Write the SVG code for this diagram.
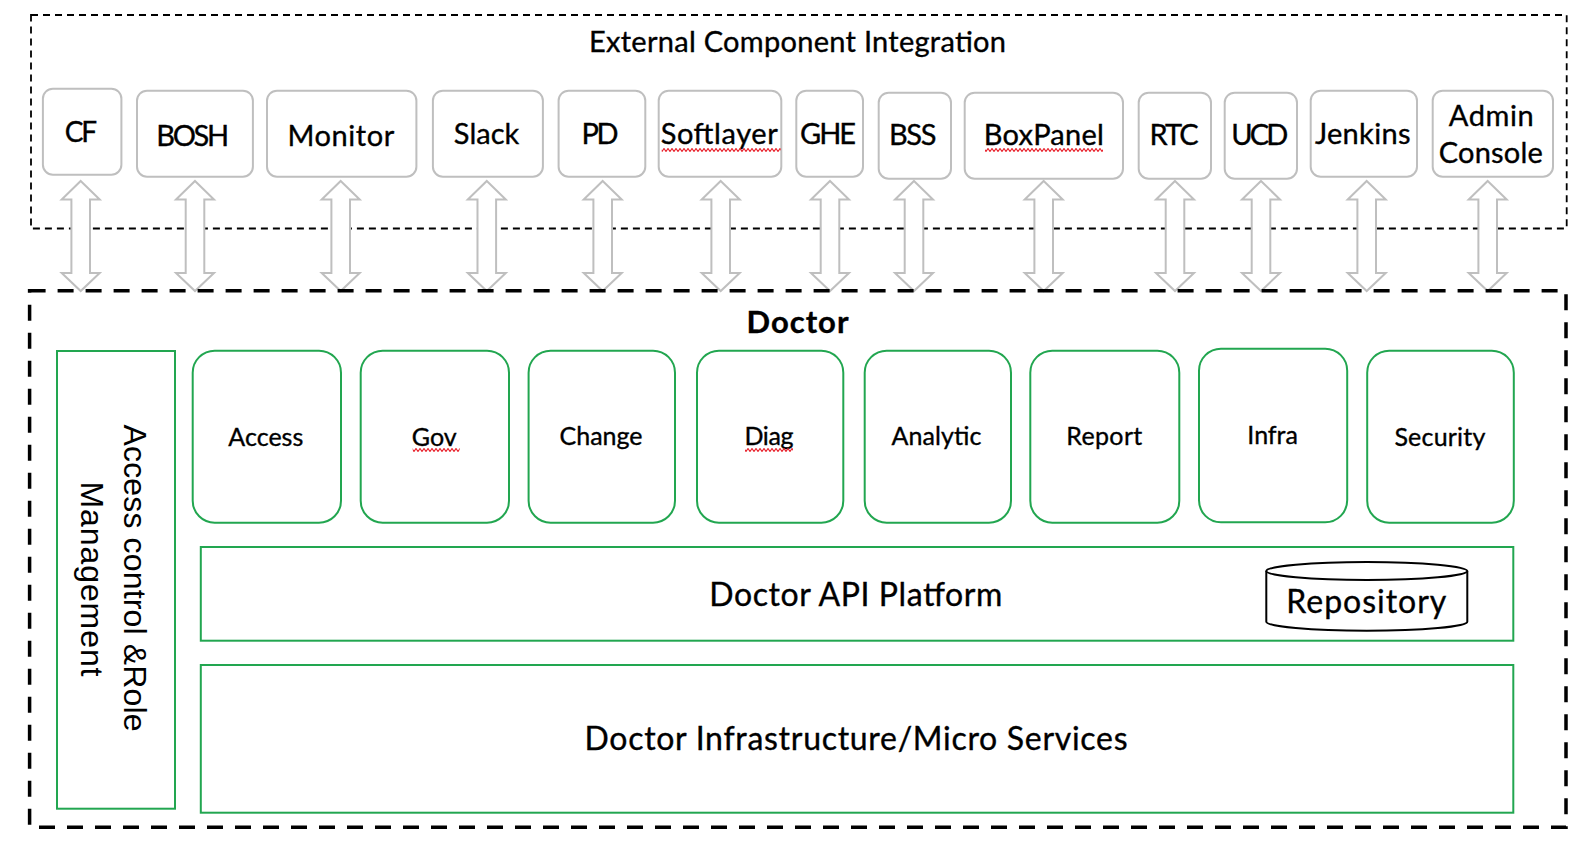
<svg xmlns="http://www.w3.org/2000/svg" xmlns:xlink="http://www.w3.org/1999/xlink" width="1582" height="854" viewBox="0 0 1582 854">
<style>
.ext{fill:#fff;stroke:#bfbfbf;stroke-width:2}
.mod{fill:#fff;stroke:#22a650;stroke-width:2}
.lbl{font-family:Lato,"Open Sans",sans-serif;fill:#000;text-anchor:middle;stroke:#000;stroke-width:0.35}
.t29{font-size:29px}
.t25{font-size:25px}
.t32{font-size:32px}
.arrow{fill:#fff;stroke:#bfbfbf;stroke-width:2;stroke-linejoin:miter}
.spell{fill:url(#wv)}
</style>
<defs>
<path id="dbl" d="M0,181 L19,199.5 L9.3,199.5 L9.3,273 L19,273 L0,291 L-19,273 L-9.3,273 L-9.3,199.5 L-19,199.5 Z"/>
<pattern id="wv" x="0" y="0" width="4" height="4" patternUnits="userSpaceOnUse">
<path d="M-1,1.5 L0,0.5 L2,3.5 L4,0.5 L5,1.5" fill="none" stroke="#e8202a" stroke-width="1.1"/>
</pattern>
</defs>
<rect width="1582" height="854" fill="#fff"/>

<g id="external">
<rect x="31" y="15" width="1535.7" height="213.5" fill="none" stroke="#000" stroke-width="1.8" stroke-dasharray="7 5"/>
<text class="lbl t29" x="797.5" y="52.3" textLength="417">External Component Integration</text>
</g>

<g id="connectors">
<use xlink:href="#dbl" href="#dbl" class="arrow" x="80.7"/>
<use xlink:href="#dbl" href="#dbl" class="arrow" x="195"/>
<use xlink:href="#dbl" href="#dbl" class="arrow" x="340.7"/>
<use xlink:href="#dbl" href="#dbl" class="arrow" x="486.8"/>
<use xlink:href="#dbl" href="#dbl" class="arrow" x="602.7"/>
<use xlink:href="#dbl" href="#dbl" class="arrow" x="720.7"/>
<use xlink:href="#dbl" href="#dbl" class="arrow" x="830"/>
<use xlink:href="#dbl" href="#dbl" class="arrow" x="914"/>
<use xlink:href="#dbl" href="#dbl" class="arrow" x="1043.7"/>
<use xlink:href="#dbl" href="#dbl" class="arrow" x="1175"/>
<use xlink:href="#dbl" href="#dbl" class="arrow" x="1261"/>
<use xlink:href="#dbl" href="#dbl" class="arrow" x="1366.7"/>
<use xlink:href="#dbl" href="#dbl" class="arrow" x="1487.7"/>
</g>

<g id="cf"><rect class="ext" x="42.9" y="88.7" width="78.5" height="86" rx="10"/><text class="lbl" style="font-size:28px" x="80.9" y="141.7" textLength="32.5">CF</text></g>
<g id="bosh"><rect class="ext" x="137" y="90.7" width="115.9" height="86" rx="10"/><text class="lbl t29" x="192.7" y="145.7" textLength="73">BOSH</text></g>
<g id="monitor"><rect class="ext" x="267" y="90.7" width="149.4" height="86" rx="10"/><text class="lbl t29" x="340.9" y="145.7" textLength="107">Monitor</text></g>
<g id="slack"><rect class="ext" x="432.9" y="90.7" width="110" height="86" rx="10"/><text class="lbl t29" x="486.6" y="144" textLength="65.5">Slack</text></g>
<g id="pd"><rect class="ext" x="558.6" y="90.7" width="86.7" height="86" rx="10"/><text class="lbl t29" x="600" y="144" textLength="37">PD</text></g>
<g id="softlayer"><rect class="ext" x="658.7" y="90.7" width="122.6" height="86" rx="10"/><text class="lbl t29" x="719.2" y="144.3" textLength="117">Softlayer</text><rect class="spell" x="661.7" y="148" width="119" height="4"/></g>
<g id="ghe"><rect class="ext" x="796.3" y="90.7" width="66.7" height="86" rx="10"/><text class="lbl t29" x="828" y="144" textLength="56">GHE</text></g>
<g id="bss"><rect class="ext" x="878.7" y="92.7" width="72.3" height="86" rx="10"/><text class="lbl t29" x="912.7" y="145.3" textLength="47.5">BSS</text></g>
<g id="boxpanel"><rect class="ext" x="964.7" y="92.7" width="158.3" height="86" rx="10"/><text class="lbl t29" x="1043.8" y="145.3" textLength="120">BoxPanel</text><rect class="spell" x="985" y="148" width="118" height="4"/></g>
<g id="rtc"><rect class="ext" x="1138.7" y="92.7" width="72.3" height="86" rx="10"/><text class="lbl t29" x="1174" y="145.3" textLength="49">RTC</text></g>
<g id="ucd"><rect class="ext" x="1224.7" y="92.7" width="72.3" height="86" rx="10"/><text class="lbl t29" x="1259.7" y="145.3" textLength="57">UCD</text></g>
<g id="jenkins"><rect class="ext" x="1310.7" y="90.7" width="106.3" height="86" rx="10"/><text class="lbl t29" x="1362.7" y="144" textLength="95.5">Jenkins</text></g>
<g id="admin-console"><rect class="ext" x="1432.7" y="90.7" width="120.3" height="86" rx="10"/><text class="lbl t29" x="1491.3" y="125.7" textLength="85">Admin</text><text class="lbl t29" x="1490.8" y="163.3" textLength="104">Console</text></g>

<g id="doctor">
<rect x="29.6" y="290.7" width="1536.4" height="536.6" fill="none" stroke="#000" stroke-width="3.5" stroke-dasharray="16 12"/>
<text class="lbl" style="font-size:31px;font-weight:bold" x="797.5" y="332.7" textLength="102">Doctor</text>
</g>

<g id="access-control">
<rect class="mod" x="57" y="351" width="118" height="457.7"/>
<text transform="translate(123.5,578) rotate(90)" style="font-family:'Liberation Sans',Arial,sans-serif;font-size:32px;text-anchor:middle" textLength="307">Access control &amp;Role</text>
<text transform="translate(80.5,579) rotate(90)" style="font-family:'Liberation Sans',Arial,sans-serif;font-size:32px;text-anchor:middle" textLength="195">Management</text>
</g>

<g id="access"><rect class="mod" x="192.7" y="350.7" width="148.3" height="172" rx="22"/><text class="lbl t25" x="265.8" y="445.7" textLength="75">Access</text></g>
<g id="gov"><rect class="mod" x="360.7" y="350.7" width="148.3" height="172" rx="22"/><text class="lbl t25" x="434.2" y="445.7" textLength="45">Gov</text><rect class="spell" x="412.7" y="448" width="47" height="4"/></g>
<g id="change"><rect class="mod" x="528.6" y="350.7" width="146.4" height="172" rx="22"/><text class="lbl t25" x="601" y="445.3" textLength="83">Change</text></g>
<g id="diag"><rect class="mod" x="697" y="350.7" width="146.3" height="172" rx="22"/><text class="lbl t25" x="769" y="445.3" textLength="49">Diag</text><rect class="spell" x="745" y="448" width="48" height="4"/></g>
<g id="analytic"><rect class="mod" x="864.7" y="350.7" width="146.3" height="172" rx="22"/><text class="lbl t25" x="936.5" y="445.3" textLength="90">Analytic</text></g>
<g id="report"><rect class="mod" x="1030.3" y="350.7" width="149" height="172" rx="22"/><text class="lbl t25" x="1104.3" y="445.3" textLength="76">Report</text></g>
<g id="infra"><rect class="mod" x="1199" y="348.7" width="148.2" height="173.6" rx="22"/><text class="lbl t25" x="1272.6" y="444.3" textLength="50.5">Infra</text></g>
<g id="security"><rect class="mod" x="1367.2" y="350.7" width="146.6" height="172" rx="22"/><text class="lbl t25" x="1439.9" y="446" textLength="91">Security</text></g>

<g id="api-platform">
<rect class="mod" x="200.8" y="547" width="1312.5" height="93.7"/>
<text class="lbl t32" x="855.8" y="605.7" textLength="293">Doctor API Platform</text>
</g>
<g id="repository">
<path d="M1266.3,571 L1266.3,621.7 A100.5,9 0 0 0 1467.3,621.7 L1467.3,571" fill="#fff" stroke="#000" stroke-width="2"/>
<ellipse cx="1366.8" cy="571" rx="100.5" ry="9" fill="#fff" stroke="#000" stroke-width="2"/>
<text class="lbl t32" x="1366.3" y="612.7" textLength="160">Repository</text>
</g>
<g id="infrastructure">
<rect class="mod" x="200.8" y="665" width="1312.5" height="147.7"/>
<text class="lbl t32" x="856" y="750" textLength="543">Doctor Infrastructure/Micro Services</text>
</g>
</svg>
